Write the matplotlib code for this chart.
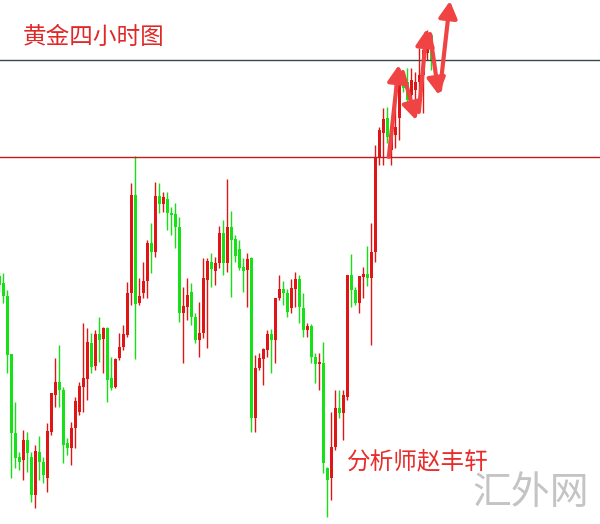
#Gold 4-hour candlestick chart
import numpy as np	#arrays
import matplotlib
matplotlib.use('Agg')
import matplotlib.pyplot as plt	#to plot

plt.rcParams['font.family'] = ['Noto Sans CJK SC', 'DejaVu Sans']

###################################################################
#candles (open, high, low, close), oldest first
opens = [1324.8, 1324.1, 1322.8, 1317.0, 1309.1, 1306.7, 1306.4, 1308.4, 1306.7, 1302.9,
         1307.2, 1306.2, 1304.6, 1309.2, 1312.9, 1314.2, 1313.4, 1308.1, 1307.6, 1309.6,
         1311.2, 1313.7, 1314.5, 1318.1, 1315.8, 1319.0, 1318.5, 1319.6, 1314.6, 1313.7,
         1316.6, 1317.7, 1318.9, 1323.1, 1332.9, 1322.1, 1323.1, 1324.3, 1328.1, 1327.2,
         1332.8, 1332.0, 1332.5, 1331.1, 1331.0, 1329.7, 1321.1, 1321.7, 1323.2, 1320.7,
         1318.4, 1319.1, 1324.4, 1326.2, 1325.3, 1326.1, 1329.1, 1326.1, 1329.7, 1328.5,
         1327.5, 1325.7, 1325.4, 1326.6, 1310.6, 1315.6, 1316.5, 1317.4, 1319.0, 1318.4,
         1322.6, 1323.5, 1323.1, 1321.6, 1323.5, 1324.5, 1321.6, 1319.4, 1319.8, 1316.7,
         1316.0, 1316.1, 1305.6, 1304.6, 1307.7, 1311.6, 1311.1, 1312.7, 1324.9, 1323.4,
         1322.1, 1324.7, 1325.0, 1324.6, 1327.2, 1336.7, 1339.1, 1340.6, 1337.4, 1338.9,
         1340.6, 1344.6, 1344.2, 1342.9, 1343.4, 1344.2, 1344.9, 1347.1, 1348.9]
highs = [1325.2, 1325.1, 1323.4, 1317.0, 1312.2, 1307.2, 1309.4, 1309.2, 1307.2, 1307.9,
         1308.8, 1306.7, 1310.1, 1313.1, 1316.6, 1317.9, 1313.7, 1308.6, 1310.2, 1312.7,
         1314.2, 1320.1, 1319.6, 1319.1, 1319.4, 1320.7, 1319.7, 1319.7, 1316.7, 1316.6,
         1319.1, 1319.9, 1324.2, 1334.1, 1336.8, 1324.6, 1326.2, 1328.4, 1330.1, 1334.2,
         1334.1, 1333.2, 1333.2, 1331.7, 1332.1, 1330.7, 1323.7, 1324.6, 1324.1, 1321.1,
         1322.2, 1326.6, 1326.6, 1327.1, 1326.7, 1329.8, 1330.4, 1334.5, 1331.3, 1328.9,
         1328.4, 1326.6, 1327.1, 1326.7, 1316.9, 1317.1, 1317.6, 1319.4, 1319.5, 1322.6,
         1324.9, 1324.3, 1323.5, 1324.5, 1325.2, 1324.9, 1323.1, 1320.1, 1320.0, 1317.1,
         1317.1, 1318.2, 1305.7, 1311.2, 1313.4, 1313.4, 1313.4, 1324.9, 1327.0, 1323.7,
         1324.8, 1325.7, 1327.8, 1330.1, 1337.9, 1339.7, 1341.6, 1341.7, 1339.9, 1344.8,
         1344.9, 1344.9, 1345.6, 1345.6, 1345.2, 1347.6, 1348.6, 1349.4, 1349.1]
lows = [1323.2, 1322.1, 1315.1, 1304.6, 1305.6, 1305.4, 1304.4, 1305.2, 1302.2, 1301.6,
        1304.4, 1304.1, 1303.2, 1308.9, 1311.7, 1311.7, 1306.1, 1306.9, 1305.9, 1307.6,
        1310.9, 1311.2, 1312.4, 1315.1, 1315.4, 1316.2, 1315.1, 1312.2, 1313.4, 1313.6,
        1316.4, 1317.4, 1318.7, 1321.9, 1316.5, 1321.9, 1322.6, 1322.6, 1325.1, 1326.7,
        1331.1, 1331.2, 1329.4, 1328.9, 1327.6, 1320.2, 1316.1, 1320.4, 1319.9, 1318.1,
        1316.7, 1318.6, 1317.6, 1323.7, 1323.9, 1325.6, 1324.9, 1325.2, 1322.7, 1326.2,
        1325.4, 1323.2, 1321.7, 1309.2, 1309.2, 1315.4, 1313.9, 1316.7, 1315.1, 1316.1,
        1322.4, 1321.9, 1320.7, 1321.1, 1321.7, 1320.1, 1318.7, 1318.7, 1316.1, 1314.1,
        1313.4, 1305.1, 1300.7, 1302.4, 1307.4, 1310.6, 1308.4, 1312.4, 1321.7, 1321.9,
        1321.1, 1322.6, 1323.8, 1317.9, 1326.2, 1335.9, 1335.9, 1338.1, 1335.9, 1337.6,
        1338.4, 1343.2, 1342.1, 1342.4, 1340.7, 1341.2, 1341.1, 1346.4, 1345.4]
closes = [1323.9, 1322.8, 1316.9, 1309.1, 1306.6, 1306.2, 1308.4, 1307.1, 1302.9, 1307.3,
          1306.2, 1304.9, 1309.3, 1313.1, 1314.2, 1313.4, 1307.9, 1307.6, 1309.6, 1312.3,
          1313.8, 1314.6, 1318.2, 1315.7, 1319.0, 1318.4, 1319.6, 1314.4, 1313.6, 1316.5,
          1317.7, 1319.0, 1323.1, 1332.9, 1322.0, 1322.8, 1324.3, 1328.1, 1327.2, 1332.8,
          1332.0, 1332.7, 1331.1, 1330.9, 1329.7, 1321.1, 1321.8, 1322.9, 1320.7, 1318.4,
          1319.1, 1324.6, 1326.3, 1325.5, 1326.1, 1329.1, 1326.1, 1329.7, 1328.4, 1326.8,
          1325.6, 1325.3, 1326.5, 1310.6, 1315.6, 1316.6, 1317.5, 1319.0, 1318.4, 1322.6,
          1323.5, 1323.1, 1321.2, 1323.6, 1324.5, 1321.7, 1319.4, 1319.8, 1316.7, 1316.0,
          1316.2, 1306.1, 1304.4, 1307.7, 1311.6, 1311.1, 1312.9, 1324.9, 1323.4, 1322.1,
          1324.8, 1325.0, 1324.6, 1327.2, 1336.7, 1339.4, 1340.5, 1338.7, 1338.7, 1339.7,
          1344.4, 1343.6, 1342.4, 1344.4, 1344.2, 1344.9, 1347.4, 1349.1, 1346.4]

#levels
resistance = 1346.4
support = 1336.7

#forecast zigzag (candle index, price)
path_x = [97.4, 99.9, 100.9, 104.2, 104.9, 106.9, 107.7, 109.9, 110.2, 112.7]
path_y = [1336.7, 1345.9, 1345.2, 1340.4, 1341.2, 1349.5, 1349.0, 1342.9, 1343.4, 1352.3]

####################################################
up_col = '#e01515'
dn_col = '#16e016'

fig = plt.figure(figsize=(6, 5.24), dpi=100)
ax = fig.add_axes([0, 0, 1, 1])

o = np.array(opens); h = np.array(highs); l = np.array(lows); c = np.array(closes)
idx = np.arange(len(o))
cols = np.where(c >= o, up_col, dn_col)

ax.vlines(idx, l, h, colors=cols, lw=1)
body = np.maximum(np.abs(c - o), 0.2)
ax.bar(idx, body, bottom=np.minimum(o, c), width=0.75, color=cols, linewidth=0)

ax.axhline(resistance, color='#38484a', lw=1)
ax.axhline(support, color='#c41a1a', lw=1)

for k in range(0, len(path_x), 2):
    ax.annotate('', xy=(path_x[k+1], path_y[k+1]), xytext=(path_x[k], path_y[k]),
                arrowprops=dict(arrowstyle='-|>,head_length=1.0,head_width=0.55',
                                color='#f04444', lw=3.0, shrinkA=0, shrinkB=0))

ax.set_xlim(0.2, 150.2)
ax.set_ylim(1300.0, 1352.4)
ax.axis('off')

fig.text(0.038, 0.929, '黄金四小时图', color='#e02828', fontsize=17, va='center', ha='left')
fig.text(0.578, 0.118, '分析师赵丰轩', color='#e82c2c', fontsize=17, va='center', ha='left')
fig.text(0.787, 0.059, '汇外网', color='#c4c4c4', fontsize=28, va='center', ha='left',
         fontweight='light')

fig.savefig('out.png', dpi=100, facecolor='white')
